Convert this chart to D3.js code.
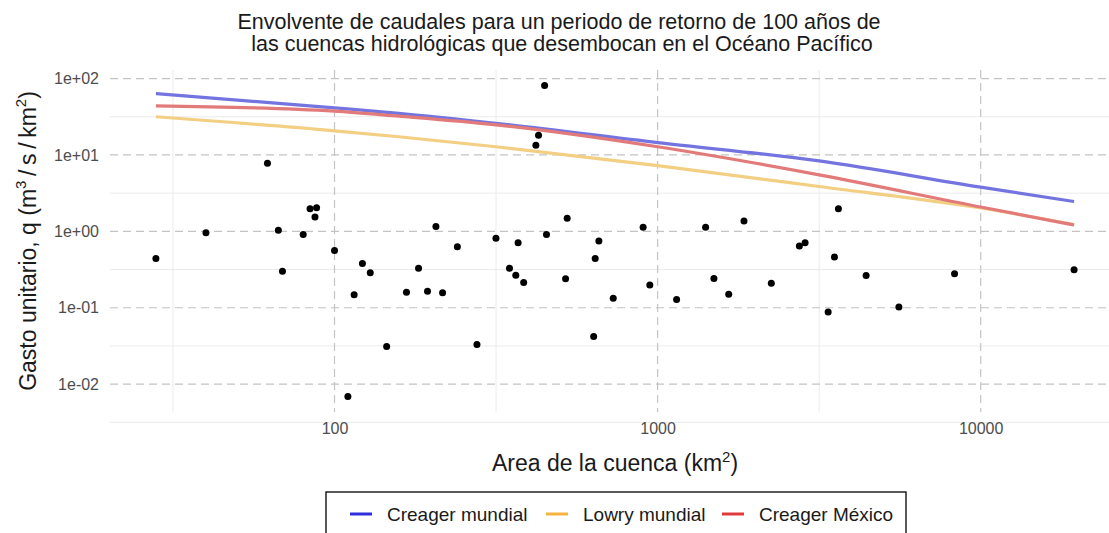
<!DOCTYPE html>
<meta charset="utf-8">
<script src="https://d3js.org/d3.v7.min.js"></script>
<style>
  body { margin: 0; background: #fff; }
  text { font-family: "Liberation Sans", Arial, sans-serif; }
</style>
<div id="chart"></div>
<script>

// observed basins: area (km2) and unit discharge q (m3/s/km2)
var area = [28, 40, 62, 67, 69, 80, 84, 88, 87, 100, 110, 115, 122, 129, 145, 167, 182, 194, 206, 216,
            240, 276, 316, 348, 364, 370, 385, 420, 428, 447, 453, 519, 525, 634, 641, 658, 729, 902, 946, 1145,
            1408, 1494, 1660, 1851, 2249, 2747, 2861, 3372, 3527, 3628, 4420, 5583, 8301, 19460]
var gasto = [0.44, 0.96, 7.8, 1.03, 0.30, 0.91, 1.98, 2.04, 1.54, 0.56, 0.0069, 0.148, 0.38, 0.287, 0.031, 0.160, 0.33, 0.164, 1.16, 0.157,
             0.63, 0.033, 0.81, 0.33, 0.267, 0.71, 0.214, 13.4, 18.1, 81, 0.91, 0.24, 1.48, 0.042, 0.44, 0.75, 0.133, 1.13, 0.198, 0.128,
             1.13, 0.242, 0.150, 1.37, 0.21, 0.645, 0.71, 0.088, 0.46, 1.98, 0.264, 0.102, 0.278, 0.314]

// envelope curves
var curveArea = [28, 100, 158, 316, 1000, 3162, 10000, 19460]
var creagerMundial = [63.7, 41.4, 35.0, 25.9, 14.5, 8.35, 3.79, 2.46]
var lowryMundial = [31.6, 20.7, 17.3, 12.8, 7.25, 3.86, 2.02, 1.23]
var creagerMexico = [43.9, 37.5, 32.2, 24.8, 12.8, 5.49, 2.08, 1.21]

var seriesNames = ["Creager mundial", "Lowry mundial", "Creager México"]
var lineColors = ["#7474e0", "#f2cf82", "#e27a7a"]
var keyColors = ["#2f2fdc", "#f5b43c", "#e03a3a"]

var xTicks = [100, 1000, 10000]
var xTickLabels = ["100", "1000", "10000"]
var yTicks = [0.01, 0.1, 1, 10, 100]
var yTickLabels = ["1e-02", "1e-01", "1e+00", "1e+01", "1e+02"]

var width = 1109, height = 533
// panel box (right edge runs past the picture, like the reference crop)
var pLeft = 110, pRight = 1120, pTop = 70, pBottom = 412

var svg = d3.select("#chart").append("svg")
    .attr("width", width)
    .attr("height", height)

// ggplot-like 5% expansion on log scale
function expanded(vals) {
  var e = d3.extent(vals).map(Math.log10)
  var pad = (e[1] - e[0]) * 0.05
  return [Math.pow(10, e[0] - pad), Math.pow(10, e[1] + pad)]
}

var x = d3.scaleLog()
    .domain(expanded(area.concat(curveArea)))
    .range([pLeft, pRight])

var y = d3.scaleLog()
    .domain(expanded(gasto.concat(creagerMundial, lowryMundial, creagerMexico)))
    .range([pBottom, pTop])

// minor grid (half decades)
var xd = x.domain().map(Math.log10), yd = y.domain().map(Math.log10)
var xMinor = d3.range(Math.floor(xd[0]) + 0.5, xd[1], 1).map(function(v){ return Math.pow(10, v) })
var yMinor = d3.range(Math.floor(yd[0]) + 0.5, yd[1], 1).map(function(v){ return Math.pow(10, v) })

svg.selectAll(".xminor").data(xMinor).enter().append("line")
    .attr("x1", function(d){ return x(d) }).attr("x2", function(d){ return x(d) })
    .attr("y1", pTop).attr("y2", pBottom)
    .attr("stroke", "#ebebeb").attr("stroke-width", 1)
svg.selectAll(".yminor").data(yMinor).enter().append("line")
    .attr("y1", function(d){ return y(d) }).attr("y2", function(d){ return y(d) })
    .attr("x1", pLeft).attr("x2", pRight)
    .attr("stroke", "#ebebeb").attr("stroke-width", 1)

// major grid, dashed
svg.selectAll(".xmajor").data(xTicks).enter().append("line")
    .attr("x1", function(d){ return x(d) }).attr("x2", function(d){ return x(d) })
    .attr("y1", pTop).attr("y2", pBottom)
    .attr("stroke", "#c4c4c4").attr("stroke-width", 1.2)
    .attr("stroke-dasharray", "8,5")
svg.selectAll(".ymajor").data(yTicks).enter().append("line")
    .attr("y1", function(d){ return y(d) }).attr("y2", function(d){ return y(d) })
    .attr("x1", pLeft).attr("x2", pRight)
    .attr("stroke", "#c4c4c4").attr("stroke-width", 1.2)
    .attr("stroke-dasharray", "8,5")

// axes
var xAxis = svg.append("g")
    .attr("transform", "translate(0," + (pBottom + 8) + ")")
    .call(d3.axisBottom(x).tickValues(xTicks).tickSize(0)
      .tickFormat(function(d, i){ return xTickLabels[i] }))
xAxis.select(".domain").remove()
xAxis.selectAll("text").attr("fill", "#4d4d4d").style("font-size", "16px")
    .style("font-family", "Liberation Sans, Arial, sans-serif")

var yAxis = svg.append("g")
    .attr("transform", "translate(" + (pLeft - 8) + ",0)")
    .call(d3.axisLeft(y).tickValues(yTicks).tickSize(0)
      .tickFormat(function(d, i){ return yTickLabels[i] }))
yAxis.select(".domain").remove()
yAxis.selectAll("text").attr("fill", "#4d4d4d").style("font-size", "16px")
    .style("font-family", "Liberation Sans, Arial, sans-serif")

// envelope lines
var lineData = [creagerMundial, lowryMundial, creagerMexico]
var line = d3.line()
    .x(function(d, i){ return x(curveArea[i]) })
    .y(function(d){ return y(d) })
    .curve(d3.curveMonotoneX)

svg.selectAll(".envelope").data(lineData).enter().append("path")
    .attr("d", line)
    .attr("fill", "none")
    .attr("stroke", function(d, i){ return lineColors[i] })
    .attr("stroke-width", 3.2)

// points
svg.selectAll(".pt").data(area).enter().append("circle")
    .attr("cx", function(d){ return x(d) })
    .attr("cy", function(d, i){ return y(gasto[i]) })
    .attr("r", 3.5)
    .attr("fill", "#000")

// title
var title = svg.append("text")
    .attr("text-anchor", "middle")
    .attr("fill", "#1a1a1a")
    .style("font-size", "21.5px")
title.append("tspan").attr("x", 559).attr("y", 29)
    .text("Envolvente de caudales para un periodo de retorno de 100 años de")
title.append("tspan").attr("x", 559).attr("y", 51)
    .text(" las cuencas hidrológicas que desembocan en el Océano Pacífico")

// x axis title
var xt = svg.append("text")
    .attr("x", (pLeft + pRight) / 2).attr("y", 471)
    .attr("text-anchor", "middle")
    .attr("fill", "#1a1a1a")
    .style("font-size", "23px")
xt.append("tspan").text("Area de la cuenca (km")
xt.append("tspan").attr("dy", -9).style("font-size", "15px").text("2")
xt.append("tspan").attr("dy", 9).text(")")

// y axis title
var yt = svg.append("text")
    .attr("transform", "translate(36," + ((pTop + pBottom) / 2) + ") rotate(-90)")
    .attr("text-anchor", "middle")
    .attr("fill", "#1a1a1a")
    .style("font-size", "23px")
yt.append("tspan").text("Gasto unitario, q (m")
yt.append("tspan").attr("dy", -10).style("font-size", "15px").text("3")
yt.append("tspan").attr("dy", 10).text("\u2009/\u2009s\u2009/\u2009km")
yt.append("tspan").attr("dy", -10).style("font-size", "15px").text("2")
yt.append("tspan").attr("dy", 10).text(")")

// legend
var legend = svg.append("g")
legend.append("rect")
    .attr("x", 326).attr("y", 492)
    .attr("width", 580).attr("height", 60)
    .attr("fill", "#fff").attr("stroke", "#000").attr("stroke-width", 1.3)

var keyX = [350, 546, 722]
var items = legend.selectAll(".item").data(seriesNames).enter().append("g")
    .attr("transform", function(d, i){ return "translate(" + keyX[i] + ",514)" })
items.append("line")
    .attr("x1", 0).attr("x2", 22).attr("y1", 0).attr("y2", 0)
    .attr("stroke", function(d, i){ return keyColors[i] })
    .attr("stroke-width", 3)
items.append("text")
    .attr("x", 37).attr("y", 7)
    .attr("fill", "#1a1a1a")
    .style("font-size", "19px")
    .text(function(d){ return d })

</script>
